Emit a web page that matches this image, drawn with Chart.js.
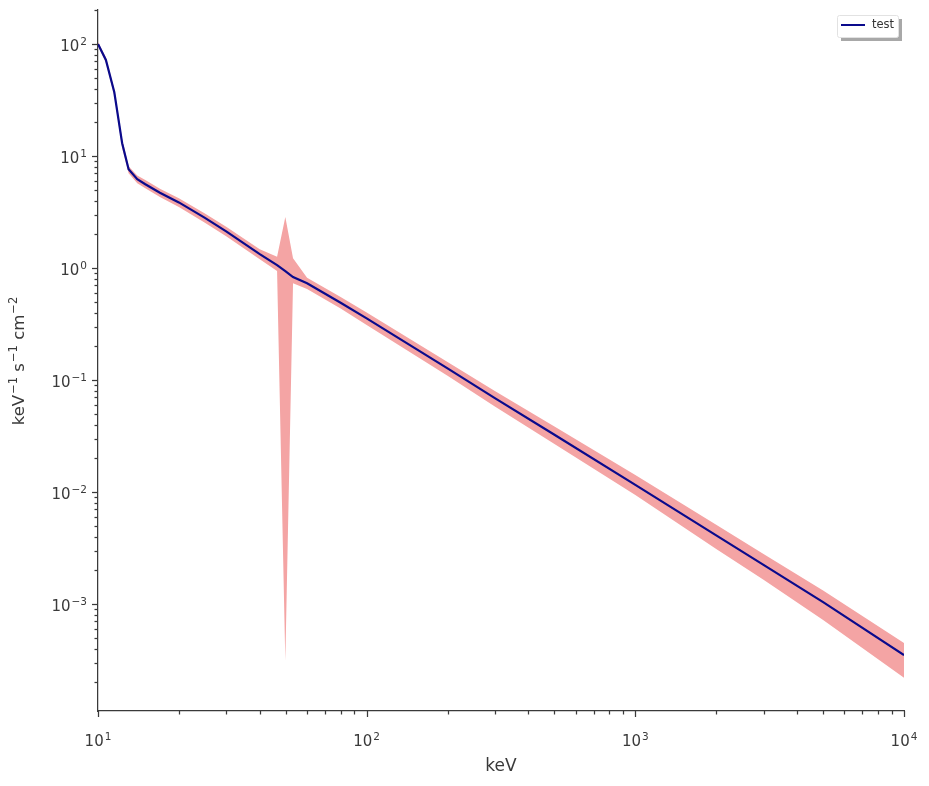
<!DOCTYPE html>
<html lang="en">
<head>
  <meta charset="UTF-8" />
  <title>keV spectrum</title>
  <script src="https://cdn.jsdelivr.net/npm/chart.js"></script>
  <style>
    body { margin: 0; background: #fff; }
    #wrap { width: 929px; height: 786px; }
  </style>
</head>
<body>
  <div id="wrap">
    <canvas id="chart" width="929" height="786"></canvas>
  </div>
  <script>
    // energies (keV) and the model curve with its band
    const energies = [10, 10.7, 11.5, 12.3, 13, 14, 15, 17, 20, 25, 30, 40, 46.4, 49.8, 53.2,
                      60, 80, 100, 200, 300, 500, 1000, 2000, 3000, 5000, 10000];
    const fluxLine = [100, 72, 37, 13, 7.6, 6.2, 5.6, 4.7, 3.85, 2.8, 2.12, 1.33, 1.06, 0.94, 0.83,
                      0.73, 0.49, 0.355, 0.127, 0.069, 0.0325, 0.0116, 0.0041, 0.00224, 0.00104, 0.00035];
    const fluxUpper = [104, 76, 39.5, 14.2, 8.1, 6.7, 6.1, 5.1, 4.2, 3.06, 2.33, 1.47, 1.26, 2.85, 1.22,
                       0.82, 0.55, 0.40, 0.145, 0.080, 0.0385, 0.0142, 0.0051, 0.0028, 0.00132, 0.00045];
    const fluxLower = [96, 68, 34.5, 11.8, 7.0, 5.7, 5.15, 4.3, 3.5, 2.54, 1.92, 1.2, 0.94, 0.00031, 0.73,
                       0.65, 0.435, 0.31, 0.109, 0.058, 0.0268, 0.0094, 0.0031, 0.00165, 0.00072, 0.00022];
    const xDecades = [1, 2, 3, 4];
    const yDecades = [2, 1, 0, -1, -2, -3];
    const seriesName = "test";

    const axisColor = "#3a3a3a";
    const font = "'DejaVu Sans'";

    const pts = arr => energies.map((e, i) => ({ x: e, y: arr[i] }));
    const expText = e => (e < 0 ? "\u2212" : "") + Math.abs(e);

    // matplotlib-like major/minor tick marks and 10^n labels
    const axisDecor = {
      id: "axisDecor",
      afterDraw(chart) {
        const ctx = chart.ctx;
        const area = chart.chartArea;
        ctx.save();
        ctx.strokeStyle = axisColor;
        ctx.lineWidth = 1.25;
        ["x", "y"].forEach(id => {
          const s = chart.scales[id];
          const lo = Math.floor(Math.log10(s.min)), hi = Math.ceil(Math.log10(s.max));
          for (let d = lo; d <= hi; d++) {
            for (let k = 1; k <= 9; k++) {
              const v = k * Math.pow(10, d);
              if (v < s.min * 0.999 || v > s.max * 1.001) continue;
              const len = k === 1 ? 6 : 3.5;
              const p = Math.round(s.getPixelForValue(v)) + 0.5;
              ctx.beginPath();
              if (id === "x") {
                ctx.moveTo(p, area.bottom);
                ctx.lineTo(p, area.bottom + len);
              } else {
                ctx.moveTo(area.left, p);
                ctx.lineTo(area.left - len, p);
              }
              ctx.stroke();
            }
          }
        });

        // tick labels: "10" with a raised smaller exponent
        ctx.fillStyle = axisColor;
        ctx.textBaseline = "alphabetic";
        const label = (e, ax, ay, align) => {
          ctx.font = "15px " + font;
          const wBase = ctx.measureText("10").width;
          ctx.font = "10.5px " + font;
          const wExp = ctx.measureText(expText(e)).width;
          const total = wBase + wExp + 1;
          const x0 = align === "center" ? ax - total / 2 : ax - total;
          ctx.font = "15px " + font;
          ctx.textAlign = "left";
          ctx.fillText("10", x0, ay);
          ctx.font = "10.5px " + font;
          ctx.fillText(expText(e), x0 + wBase + 1, ay - 6);
        };
        const xs = chart.scales.x, ys = chart.scales.y;
        xDecades.forEach(e => label(e, xs.getPixelForValue(Math.pow(10, e)), area.bottom + 35, "center"));
        yDecades.forEach(e => label(e, area.left - 11, ys.getPixelForValue(Math.pow(10, e)) + 7, "right"));

        // y axis title with superscripts, rotated
        ctx.save();
        ctx.translate(24, 361);
        ctx.rotate(-Math.PI / 2);
        const parts = [["keV", 0], [expText(-1), 1], [" s", 0], [expText(-1), 1], [" cm", 0], [expText(-2), 1]];
        let w = 0;
        parts.forEach(([t, s]) => { ctx.font = (s ? "11.5px " : "16.5px ") + font; w += ctx.measureText(t).width + (s ? 1 : 0); });
        let cx = -w / 2;
        parts.forEach(([t, s]) => {
          ctx.font = (s ? "11.5px " : "16.5px ") + font;
          if (s) cx += 1;
          ctx.fillText(t, cx, s ? -7 : 0);
          cx += ctx.measureText(t).width;
        });
        ctx.restore();
        ctx.restore();
      }
    };

    // boxed legend with drop shadow, top right
    const boxLegend = {
      id: "boxLegend",
      afterDraw(chart) {
        const ctx = chart.ctx;
        const x = 837, y = 15, w = 61, h = 22;
        ctx.save();
        ctx.fillStyle = "#a8a8a8";
        ctx.fillRect(x + 4, y + 4, w, h);
        ctx.fillStyle = "#fff";
        ctx.strokeStyle = "#e2e2e2";
        ctx.lineWidth = 1;
        ctx.beginPath();
        ctx.roundRect(x + 0.5, y + 0.5, w, h, 2);
        ctx.fill();
        ctx.stroke();
        ctx.strokeStyle = "#0a0a8c";
        ctx.lineWidth = 2;
        ctx.beginPath();
        ctx.moveTo(841, y + 10);
        ctx.lineTo(865, y + 10);
        ctx.stroke();
        ctx.fillStyle = "#333";
        ctx.font = "11.5px " + font;
        ctx.textBaseline = "middle";
        ctx.fillText(seriesName, 872, y + 10);
        ctx.restore();
      }
    };

    new Chart(document.getElementById("chart").getContext("2d"), {
      type: "line",
      data: {
        datasets: [
          { label: seriesName, data: pts(fluxLine), borderColor: "#0a0a8c", borderWidth: 2.2,
            pointRadius: 0, tension: 0, fill: false },
          { label: "upper", data: pts(fluxUpper), borderWidth: 0, borderColor: "rgba(0,0,0,0)",
            backgroundColor: "#f4a4a4", pointRadius: 0, tension: 0, fill: "+1" },
          { label: "lower", data: pts(fluxLower), borderWidth: 0, borderColor: "rgba(0,0,0,0)",
            pointRadius: 0, tension: 0, fill: false }
        ]
      },
      options: {
        responsive: false,
        animation: false,
        layout: { padding: { left: 0, top: 10, right: 25, bottom: 0 } },
        plugins: { legend: { display: false }, tooltip: { enabled: false } },
        scales: {
          x: {
            type: "logarithmic",
            min: 10, max: 10000,
            afterFit: s => { s.height = 75; },
            border: { display: true, color: axisColor, width: 1.25 },
            grid: { display: false },
            ticks: { display: false },
            title: { display: true, text: "keV", color: axisColor, padding: { top: 4, bottom: 9 },
                     font: { family: "DejaVu Sans", size: 17 } }
          },
          y: {
            type: "logarithmic",
            min: 1.11e-4, max: 201,
            afterFit: s => { s.width = 98; },
            border: { display: true, color: axisColor, width: 1.25 },
            grid: { display: false },
            ticks: { display: false },
            title: { display: false }
          }
        }
      },
      plugins: [axisDecor, boxLegend]
    });
  </script>
</body>
</html>
